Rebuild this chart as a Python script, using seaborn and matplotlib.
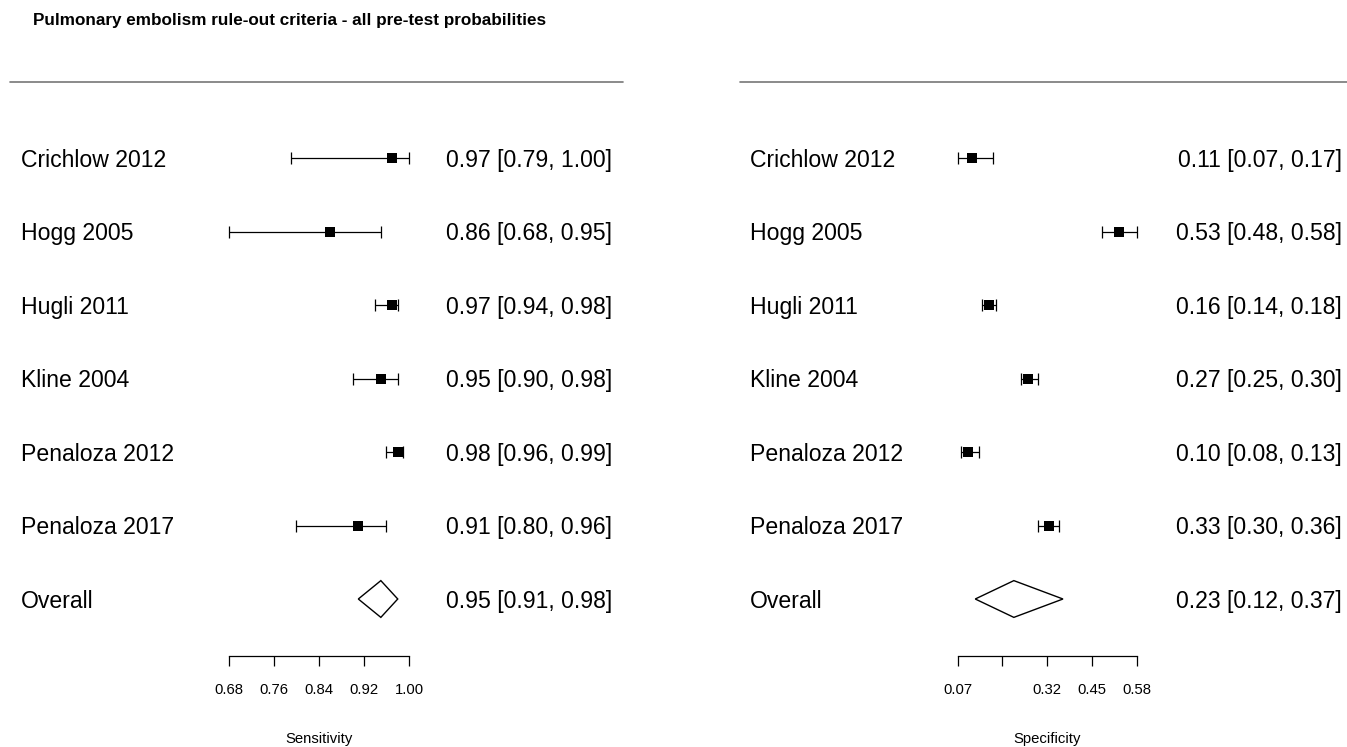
import matplotlib
matplotlib.use("Agg")
import matplotlib.pyplot as plt
import seaborn as sns
import pandas as pd
import numpy as np

# ---------------- data ----------------
title = "Pulmonary embolism rule-out criteria - all pre-test probabilities"
studies = ["Crichlow 2012", "Hogg 2005", "Hugli 2011", "Kline 2004",
           "Penaloza 2012", "Penaloza 2017"]
overall_label = "Overall"

sens = [0.97, 0.86, 0.97, 0.95, 0.98, 0.91]
sens_lo = [0.79, 0.68, 0.94, 0.90, 0.96, 0.80]
sens_hi = [1.00, 0.95, 0.98, 0.98, 0.99, 0.96]
sens_overall = [0.95, 0.91, 0.98]

spec = [0.11, 0.53, 0.16, 0.27, 0.10, 0.33]
spec_lo = [0.07, 0.48, 0.14, 0.25, 0.08, 0.30]
spec_hi = [0.17, 0.58, 0.18, 0.30, 0.13, 0.36]
spec_overall = [0.23, 0.12, 0.37]

sens_ticks = [0.68, 0.76, 0.84, 0.92, 1.00]
sens_ticklabels = ["0.68", "0.76", "0.84", "0.92", "1.00"]
spec_ticks = [0.07, 0.1975, 0.325, 0.4525, 0.58]
spec_ticklabels = ["0.07", "", "0.32", "0.45", "0.58"]

sens_xlabel = "Sensitivity"
spec_xlabel = "Specificity"

# ---------------- style ----------------
sns.set_style("white")
plt.rcParams["font.family"] = ["Liberation Sans", "DejaVu Sans"]
plt.rcParams["text.color"] = "black"
plt.rcParams["xtick.color"] = "black"
plt.rcParams["xtick.labelcolor"] = "black"

W, H = 1347, 747
fig = plt.figure(figsize=(W / 100, H / 100), dpi=100)

ROW0, ROWSTEP = 158.0, 73.5  # pixel position of the first row & spacing


def row_of(py):
    return (py - ROW0) / ROWSTEP


def panel(px_left, px_right, v0, px0, scale, est, lo, hi, ov, ticks, ticklabels,
          xlabel, label_px, ci_px, ci_align, line_px):
    ax = fig.add_axes([px_left / W, 0, (px_right - px_left) / W, 1])
    xmin = v0 - (px0 - px_left) / scale
    xmax = v0 + (px_right - px0) / scale
    ax.set_xlim(xmin, xmax)
    ax.set_ylim(row_of(H), row_of(0))
    pw = px_right - px_left

    n = len(studies)
    df = pd.DataFrame({"study": studies, "est": est, "lo": lo, "hi": hi,
                       "row": np.arange(n)})

    # CI lines with caps
    ax.errorbar(df["est"], df["row"],
                xerr=[df["est"] - df["lo"], df["hi"] - df["est"]],
                fmt="none", ecolor="black", elinewidth=0.9, capsize=4.4,
                capthick=0.9, zorder=2)
    # squares
    sns.scatterplot(data=df, x="est", y="row", marker="s", s=48, color="black",
                    edgecolor="black", linewidth=0, ax=ax, zorder=3, legend=False)

    # overall diamond
    orow = n
    e, l, h = ov
    dh = 0.25
    ax.fill([l, e, h, e, l], [orow, orow - dh, orow, orow + dh, orow],
            facecolor="white", edgecolor="black", linewidth=1.0, zorder=3)

    # labels & CI text
    fs = 16.6
    toff = 0.03
    rows_all = list(df["row"]) + [orow]
    labels_all = studies + [overall_label]
    cis = [f"{a:.2f} [{b:.2f}, {c:.2f}]" for a, b, c in zip(est, lo, hi)] + \
          [f"{e:.2f} [{l:.2f}, {h:.2f}]"]
    for r, lab, ci in zip(rows_all, labels_all, cis):
        ax.text((label_px - px_left) / pw, r + toff, lab,
                transform=ax.get_yaxis_transform(),
                ha="left", va="center", fontsize=fs)
        ax.text((ci_px - px_left) / pw, r + toff, ci,
                transform=ax.get_yaxis_transform(),
                ha=ci_align, va="center", fontsize=fs)

    # top rule
    ax.axhline(row_of(82), xmin=(line_px[0] - px_left) / pw,
               xmax=(line_px[1] - px_left) / pw, color="#777777", lw=1.2)

    # bottom axis
    for s in ["top", "right", "left"]:
        ax.spines[s].set_visible(False)
    ax.spines["bottom"].set_position(("data", row_of(656)))
    ax.spines["bottom"].set_bounds(ticks[0], ticks[-1])
    ax.spines["bottom"].set_color("black")
    ax.spines["bottom"].set_linewidth(0.9)
    ax.set_xticks(ticks)
    ax.set_xticklabels(ticklabels)
    ax.tick_params(axis="x", direction="out", length=7.2, width=0.9,
                   color="black", pad=12.5, labelsize=10.7, bottom=True)
    ax.set_yticks([])
    ax.set_xlabel("")
    ax.set_ylabel("")
    ax.text((ticks[0] + ticks[-1]) / 2, row_of(739), xlabel, ha="center",
            va="center", fontsize=10.7)
    ax.patch.set_alpha(0)
    return ax


panel(0, 673, 0.68, 228.7, 563.5, sens, sens_lo, sens_hi, sens_overall,
      sens_ticks, sens_ticklabels, sens_xlabel, 21, 446, "left", (10, 623))
panel(673, 1347, 0.07, 957.7, 350.9, spec, spec_lo, spec_hi, spec_overall,
      spec_ticks, spec_ticklabels, spec_xlabel, 750, 1342, "right", (740, 1347))

fig.text(33 / W, 1 - 20 / H, title, ha="left", va="center", fontsize=12.3,
         fontweight="bold")

fig.savefig("out.png", dpi=100)
